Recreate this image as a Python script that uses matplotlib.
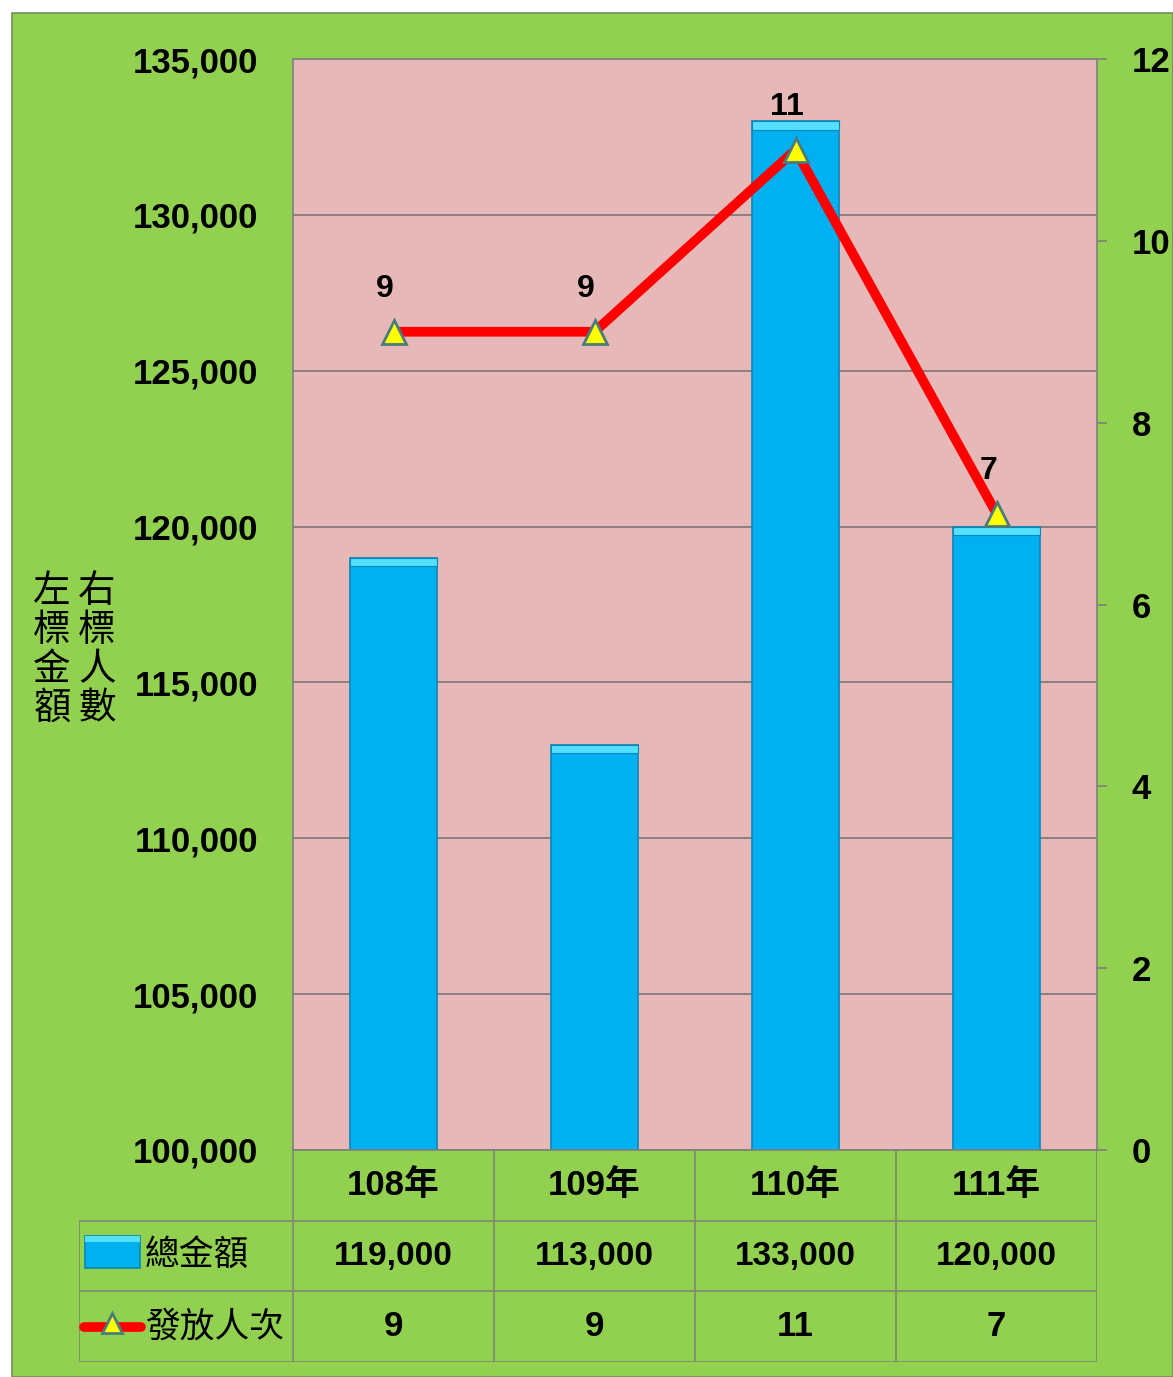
import matplotlib
matplotlib.use("Agg")
import matplotlib.pyplot as plt
from matplotlib import font_manager
from matplotlib.patches import Rectangle
from matplotlib.lines import Line2D

# ---- data ----
categories = ["108年", "109年", "110年", "111年"]
amount = [119000, 113000, 133000, 120000]
persons = [9, 9, 11, 7]
amount_label = "總金額"
persons_label = "發放人次"
left_ticks = [100000, 105000, 110000, 115000, 120000, 125000, 130000, 135000]
right_ticks = [0, 2, 4, 6, 8, 10, 12]
ylabel_left = "左標金額"
ylabel_right = "右標人數"

names = {f.name for f in font_manager.fontManager.ttflist}
NUM = "Liberation Sans Narrow" if "Liberation Sans Narrow" in names else "Liberation Sans"
CJK = "Noto Sans CJK TC"
FAM = [NUM, CJK, "DejaVu Sans"]
plt.rcParams["font.family"] = FAM

W, H = 1173, 1377
fig = plt.figure(figsize=(W / 100, H / 100), dpi=100)
fig.patch.set_facecolor("white")

GREEN = "#92D050"
PINK = "#E6B9B8"
GRID = "#8C7F7F"
BLUE = "#00B0F0"
BLUE_EDGE = "#0A86B8"
CAP = "#55E0FF"

def fx(px):
    return px / W

def fy(py):
    return 1 - py / H

# green chart area
fig.patches.append(Rectangle((fx(12), 0), fx(W - 12), fy(13), transform=fig.transFigure,
                             facecolor=GREEN, edgecolor="#6E8F5A", linewidth=1.2, zorder=-10))

# main axes
L, R, T, B = 293, 1097, 59, 1150
ax = fig.add_axes([fx(L), fy(B), fx(R - L), (B - T) / H])
ax.set_facecolor(PINK)
x = list(range(len(categories)))
ax.set_xlim(-0.5, len(categories) - 0.5)
ax.set_ylim(100000, 135000)
ax.set_yticks(left_ticks)
ax.set_yticklabels([f"{v:,}" for v in left_ticks], fontsize=25, fontweight="bold", family=FAM)
ax.tick_params(axis="y", length=0, pad=25)
ax.set_xticks([])
ax.grid(axis="y", color=GRID, linewidth=1.4)
ax.set_axisbelow(True)
for s in ax.spines.values():
    s.set_color("#7F7F7F")
    s.set_linewidth(1.2)

ax.bar(x, amount, width=0.43, bottom=0, color=BLUE, edgecolor=BLUE_EDGE, linewidth=1.2, zorder=2)
cap = 280
ax.bar(x, [cap] * len(amount), width=0.43, bottom=[a - cap for a in amount],
       color=CAP, edgecolor=BLUE_EDGE, linewidth=0.8, zorder=3)

ax2 = ax.twinx()
ax2.set_ylim(0, 12)
ax2.set_yticks(right_ticks)
ax2.set_yticklabels([str(v) for v in right_ticks], fontsize=25, fontweight="bold", family=FAM)
ax2.tick_params(axis="y", length=7, width=1.2, color="#7F7F7F", pad=18, direction="out")
for s in ax2.spines.values():
    s.set_visible(False)
ax2.plot(x, persons, color="#FF0000", linewidth=7, solid_capstyle="round", zorder=4,
         marker="^", markersize=17, markerfacecolor="#FFFF00", markeredgecolor="#4A7C7C",
         markeredgewidth=2)
for xi, p in zip(x, persons):
    ax2.annotate(str(p), (xi, p), xytext=(-6, 20), textcoords="offset points",
                 ha="center", va="bottom", fontsize=23, fontweight="bold", family=FAM)

# vertical axis titles
fig.text(fx(52), fy(650), "\n".join(ylabel_left), ha="center", va="center",
         fontsize=27, linespacing=1.0, family=[CJK, "DejaVu Sans"])
fig.text(fx(97), fy(650), "\n".join(ylabel_right), ha="center", va="center",
         fontsize=27, linespacing=1.0, family=[CJK, "DejaVu Sans"])

# data table
TL, TT, TB = 79, 1150, 1362
tax = fig.add_axes([fx(TL), fy(TB), fx(R - TL), (TB - TT) / H])
tax.set_axis_off()
unit = (R - L) / len(categories)
x0 = -0.5 - (L - TL) / unit
tax.set_xlim(x0, len(categories) - 0.5)
tax.set_ylim(3, 0)
lc = "#7F8F70"
lw = 1.3
tax.add_line(Line2D([-0.5, len(categories) - 0.5], [0, 0], color=lc, lw=lw))
for yy in [1, 2, 3]:
    tax.add_line(Line2D([x0, len(categories) - 0.5], [yy, yy], color=lc, lw=lw))
for k in range(len(categories) + 1):
    tax.add_line(Line2D([k - 0.5, k - 0.5], [0, 3], color=lc, lw=lw))
tax.add_line(Line2D([x0, x0], [1, 3], color=lc, lw=lw))

for xi, c in zip(x, categories):
    tax.text(xi, 0.5, c, ha="center", va="center", fontsize=25, fontweight="bold", family=FAM)
for xi, a in zip(x, amount):
    tax.text(xi, 1.5, f"{a:,}", ha="center", va="center", fontsize=24, fontweight="bold", family=FAM)
for xi, p in zip(x, persons):
    tax.text(xi, 2.5, str(p), ha="center", va="center", fontsize=25, fontweight="bold", family=FAM)

# legend keys in table
ix0 = x0 + 6 / unit
tax.add_patch(Rectangle((ix0, 1.22), 55 / unit, 0.45, facecolor=BLUE, edgecolor=BLUE_EDGE, lw=1.2))
tax.add_patch(Rectangle((ix0, 1.22), 55 / unit, 0.08, facecolor=CAP, edgecolor="none"))
tax.add_line(Line2D([x0 + 5 / unit, x0 + 62 / unit], [2.5, 2.5], color="#FF0000", lw=7,
                    solid_capstyle="round"))
tax.add_line(Line2D([x0 + 33 / unit], [2.45], marker="^", markersize=15, markerfacecolor="#FFFF00",
                    markeredgecolor="#4A7C7C", markeredgewidth=2))
tax.text(x0 + 66 / unit, 1.5, amount_label, ha="left", va="center", fontsize=25, family=[CJK])
tax.text(x0 + 66 / unit, 2.5, persons_label, ha="left", va="center", fontsize=25, family=[CJK])

fig.savefig("out.png", dpi=100, facecolor="white")
